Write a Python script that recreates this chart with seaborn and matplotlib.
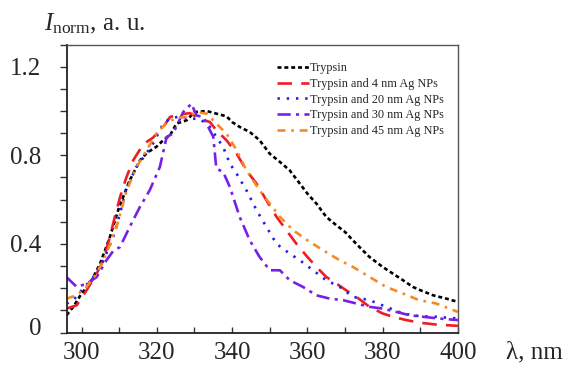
import numpy as np
import pandas as pd
import seaborn as sns
import matplotlib
matplotlib.use("Agg")
import matplotlib.pyplot as plt
import matplotlib.transforms as mtransforms
from matplotlib.ticker import MultipleLocator, FixedFormatter, FixedLocator

# ---- data ----
x_trypsin = [296, 297.8, 300, 302.2, 304.9, 307.5, 310, 312.8, 315.5, 317.3, 320, 321.7, 323.5,
             325.2, 327.9, 330, 333.2, 335.8, 338.5, 340, 342, 344.7, 347.3, 350, 352.7, 355.3,
             358, 360, 362.4, 365, 367.7, 370, 373, 376.5, 380, 382.7, 385.4, 388, 390, 393.4,
             396.9, 400]
y_trypsin = [0.078, 0.116, 0.176, 0.22, 0.31, 0.43, 0.567, 0.687, 0.777, 0.81, 0.84, 0.868, 0.89,
             0.943, 0.958, 0.995, 1.0, 0.988, 0.976, 0.95, 0.928, 0.905, 0.868, 0.807, 0.77, 0.732,
             0.672, 0.627, 0.582, 0.522, 0.484, 0.454, 0.40, 0.341, 0.296, 0.266, 0.236, 0.206,
             0.191, 0.168, 0.153, 0.138]

x_4nm = [296, 298.7, 301.3, 304, 305.8, 307.5, 308.8, 310.2, 311.9, 313.7, 316.4, 319, 321.7,
         323.5, 326.1, 328.8, 331.4, 334.1, 335.8, 338.5, 341.2, 343.8, 346.5, 349.1, 351.8,
         354.4, 357.1, 360, 362.4, 365, 367.7, 370, 373, 376.5, 380, 382.7, 386.3, 390, 394.2, 400]
y_4nm = [0.108, 0.123, 0.19, 0.266, 0.326, 0.43, 0.52, 0.61, 0.70, 0.777, 0.85, 0.88, 0.928,
         0.973, 0.985, 0.99, 0.965, 0.95, 0.913, 0.868, 0.807, 0.732, 0.672, 0.597, 0.522,
         0.462, 0.40, 0.341, 0.296, 0.251, 0.221, 0.194, 0.161, 0.116, 0.086, 0.071, 0.056,
         0.044, 0.036, 0.03]

x_20nm = [296, 298, 300, 303.1, 305.8, 308.4, 310.2, 312, 314.6, 317.3, 319, 321.7, 323.5, 326.1,
          328.8, 331.4, 334.1, 335.8, 337.6, 339.4, 341.2, 343.8, 346.5, 349.1, 351.8, 355.3,
          358, 361.5, 365, 368.6, 372.1, 376.5, 380.9, 385.4, 389.7, 394.2, 400]
y_20nm = [0.13, 0.15, 0.19, 0.25, 0.326, 0.43, 0.537, 0.657, 0.747, 0.81, 0.853, 0.943, 0.965,
          0.976, 0.965, 0.965, 0.928, 0.883, 0.838, 0.762, 0.717, 0.642, 0.552, 0.477, 0.40,
          0.356, 0.326, 0.281, 0.236, 0.206, 0.161, 0.146, 0.116, 0.086, 0.074, 0.071, 0.063]

x_30nm = [296, 298.7, 301.3, 304, 306.6, 308.4, 310.2, 312.8, 315.5, 318.1, 320.8, 322.6, 324.3,
          327, 329.2, 330.5, 332.3, 335, 335.8, 337.6, 339.4, 342, 344.7, 347.3, 350, 352.7,
          355.3, 358.8, 362.4, 365.9, 369.5, 373, 376.5, 380, 383.6, 387.2, 390.7, 395.1, 400]
y_30nm = [0.25, 0.206, 0.22, 0.25, 0.326, 0.368, 0.386, 0.477, 0.567, 0.642, 0.747, 0.883, 0.898,
          0.995, 1.033, 0.98, 0.973, 0.883, 0.74, 0.725, 0.657, 0.522, 0.416, 0.341, 0.281,
          0.281, 0.236, 0.206, 0.168, 0.153, 0.146, 0.131, 0.116, 0.108, 0.093, 0.078, 0.071,
          0.063, 0.056]

x_45nm = [296, 298.7, 301.3, 304, 306.6, 309.3, 312, 314.6, 317.3, 319.9, 322.6, 325.2, 327.9,
          330.5, 333.2, 335.8, 338.5, 341.2, 343.8, 347.3, 350, 352.7, 356.2, 360, 364.2, 368.6,
          372.1, 376.5, 380.9, 385.4, 389.7, 394.2, 400]
y_45nm = [0.153, 0.168, 0.206, 0.266, 0.356, 0.477, 0.642, 0.747, 0.823, 0.898, 0.946, 0.97,
          0.973, 0.995, 0.988, 0.943, 0.898, 0.823, 0.732, 0.642, 0.582, 0.522, 0.462, 0.416,
          0.371, 0.326, 0.296, 0.251, 0.206, 0.176, 0.146, 0.131, 0.093]

series_names = ["Trypsin", "Trypsin and 4 nm Ag NPs", "Trypsin and 20 nm Ag NPs",
                "Trypsin and 30 nm Ag NPs", "Trypsin and 45 nm Ag NPs"]
xs = [x_trypsin, x_4nm, x_20nm, x_30nm, x_45nm]
ys = [y_trypsin, y_4nm, y_20nm, y_30nm, y_45nm]

x_ticks = [300, 320, 340, 360, 380, 400]
y_ticks = [0, 0.4, 0.8, 1.2]
y_tick_labels = ["0", "0.4", "0.8", "1.2"]

# ---- styles ----
colors = {series_names[0]: "#000000", series_names[1]: "#ee1c24", series_names[2]: "#1f1fe6",
          series_names[3]: "#7a1fe8", series_names[4]: "#f58a25"}
dashes = {series_names[0]: (1.5, 1.1), series_names[1]: (5.5, 3.5), series_names[2]: (0.9, 2.6),
          series_names[3]: (5.0, 2.0, 1.2, 2.0), series_names[4]: (3.0, 2.2, 1.0, 2.2)}

df = pd.concat([pd.DataFrame({"wl": x, "I": y, "series": n}) for x, y, n in zip(xs, ys, series_names)],
               ignore_index=True)

sns.set_theme(style="white")
plt.rcParams["font.family"] = ["Liberation Serif", "DejaVu Serif"]
plt.rcParams["mathtext.fontset"] = "custom"
plt.rcParams["mathtext.rm"] = "Liberation Serif"
plt.rcParams["mathtext.it"] = "Liberation Serif:italic"

fig = plt.figure(figsize=(5.71, 3.65), dpi=100)
ax = fig.add_axes([0.1165, 0.089, 0.6855, 0.789])

sns.lineplot(data=df, x="wl", y="I", hue="series", style="series", hue_order=series_names,
             style_order=series_names, palette=colors, dashes=dashes, estimator=None,
             sort=False, linewidth=1.9, legend=False, ax=ax)

ax.set_xlim(296, 400)
ax.set_ylim(0, 1.3)
ax.xaxis.set_major_locator(FixedLocator(x_ticks))
ax.xaxis.set_minor_locator(MultipleLocator(10))
ax.yaxis.set_major_locator(FixedLocator(y_ticks))
ax.yaxis.set_major_formatter(FixedFormatter(y_tick_labels))
ax.yaxis.set_minor_locator(MultipleLocator(0.1))

ax.tick_params(axis="x", which="both", direction="in", length=4, width=1, color="#333333",
               labelsize=18, pad=7, bottom=True)
ax.tick_params(axis="y", which="both", direction="out", length=5, width=1, color="#333333",
               labelsize=18, pad=13, left=True)
ax.set_xlabel("")
ax.set_ylabel("")

# the "0" label sits slightly above the axis line in the reference
fig.canvas.draw()
ylabels = ax.get_yticklabels()
if ylabels:
    off = mtransforms.ScaledTranslation(0, 4.5 / 72, fig.dpi_scale_trans)
    ylabels[0].set_transform(ylabels[0].get_transform() + off)

for s in ["left", "bottom"]:
    ax.spines[s].set_color("#222222")
    ax.spines[s].set_linewidth(1.3)
for s in ["top", "right"]:
    ax.spines[s].set_color("#555555")
    ax.spines[s].set_linewidth(1.0)

fig.text(0.077, 0.935, r"$I_{\mathrm{norm}}$, a. u.", fontsize=18, ha="left", va="center")
fig.text(0.985, 0.035, "λ, nm", fontsize=18, ha="right", va="center")

lines = ax.get_lines()[:5]
leg = ax.legend(lines, series_names, loc="upper left", bbox_to_anchor=(0.525, 0.955),
                frameon=False, fontsize=8.8, handlelength=2.6, handletextpad=0.1,
                labelspacing=0.3, borderaxespad=0)

fig.savefig("out.png", dpi=100)
